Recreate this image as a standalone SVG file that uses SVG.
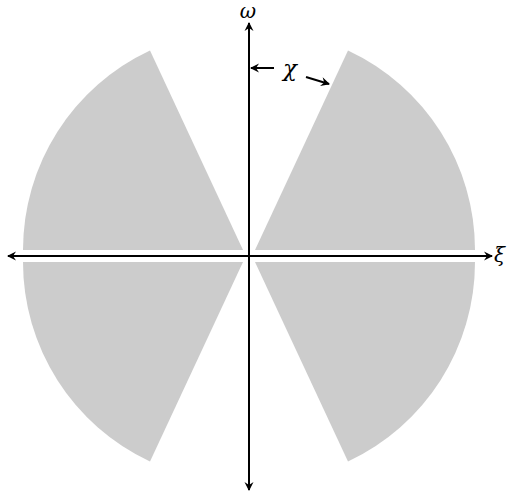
<svg xmlns="http://www.w3.org/2000/svg" width="507" height="495" viewBox="0 0 507 495">
<style>
.wedge{fill:#cccccc;stroke:none}
.axis{stroke:#000;stroke-width:2;fill:none}
.lbl{font-family:"DejaVu Serif","Liberation Serif",serif;font-style:italic;fill:#000}
</style>
<defs>
<marker id="arr" viewBox="-10 -5 12 10" refX="0" refY="0" markerWidth="12" markerHeight="10" markerUnits="userSpaceOnUse" orient="auto">
<path d="M1,0 L-8,-4.5 L-5,0 L-8,4.5 Z" fill="#000"/>
</marker>
</defs>
<g id="wedges">
<g id="wedge-tr"><path class="wedge" d="M255,250 L475,250 A220,220 0 0 0 348,50.6 Z"/></g>
<g id="wedge-tl"><path class="wedge" d="M243,250 L150,50.6 A220,220 0 0 0 23,250 Z"/></g>
<g id="wedge-br"><path class="wedge" d="M255,262 L475,262 A220,220 0 0 1 348,461.4 Z"/></g>
<g id="wedge-bl"><path class="wedge" d="M243,262 L150,461.4 A220,220 0 0 1 23,262 Z"/></g>
</g>
<g id="connectors">
<line class="axis" x1="249" y1="256" x2="8" y2="256" marker-end="url(#arr)"/>
<line class="axis" x1="249" y1="256" x2="492" y2="256" marker-end="url(#arr)"/>
<line class="axis" x1="249" y1="256" x2="249" y2="23" marker-end="url(#arr)"/>
<line class="axis" x1="249" y1="256" x2="249" y2="490" marker-end="url(#arr)"/>
<line class="axis" x1="274" y1="68" x2="251" y2="68" marker-end="url(#arr)"/>
<line class="axis" x1="306" y1="77" x2="329" y2="84" marker-end="url(#arr)"/>
</g>
<g id="labels">
<g id="label-omega"><text class="lbl" x="248" y="18" font-size="20" text-anchor="middle">ω</text></g>
<g id="label-xi"><text class="lbl" x="494" y="262" font-size="20">ξ</text></g>
<g id="label-chi"><text class="lbl" x="290" y="76" font-size="23" text-anchor="middle">χ</text></g>
</g>
</svg>
